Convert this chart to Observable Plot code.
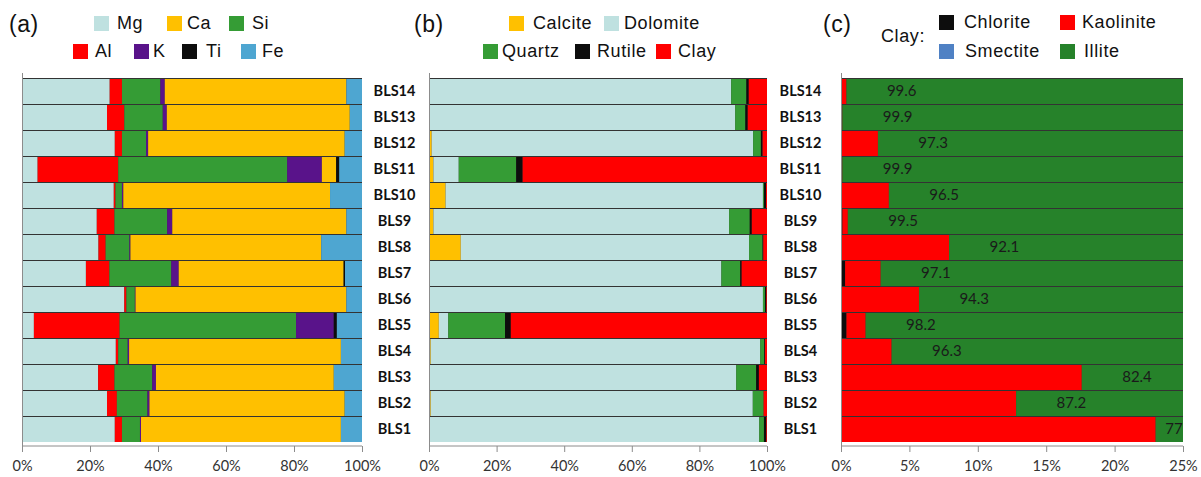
<!DOCTYPE html>
<html><head><meta charset="utf-8">
<script src="https://cdn.jsdelivr.net/npm/d3@7"></script>
<script src="https://cdn.jsdelivr.net/npm/@observablehq/plot@0.6"></script>
<style>
body{margin:0;background:#fff;}
#root{position:relative;width:1201px;height:477px;overflow:hidden;font-family:"Liberation Sans",Arial,sans-serif;color:#111;}
.item{position:absolute;height:20px;display:flex;align-items:center;font-size:18px;letter-spacing:0.6px;white-space:nowrap;}
.sw{width:15px;height:15px;flex:none;}
.ttl{position:absolute;font-size:23px;line-height:1;letter-spacing:0.5px;}
.panel{position:absolute;top:62px;}
.panel svg g[aria-label="x-axis tick"] path{stroke:#8c8c8c;}
</style></head><body><div id="root"></div>
<script>
// ---------- data ----------
const samples = ["BLS1","BLS2","BLS3","BLS4","BLS5","BLS6","BLS7","BLS8","BLS9","BLS10","BLS11","BLS12","BLS13","BLS14"];

// (a) elemental composition, %
const elementsA = ["Mg","Al","Si","K","Ca","Ti","Fe"];
const colorsA   = ["#bfe1e0","#ff0000","#359c35","#59138a","#ffc000","#0d0d0d","#4ea6d1"];
const mg = [27.3,25.0,22.4,27.6,3.5,30.1,18.8,22.5,22.0,27.0,4.6,27.3,25.0,25.8];
const al = [2.1,2.9,4.8,0.7,25.2,0.6,6.9,2.1,5.2,0.5,23.7,2.1,5.1,3.6];
const si = [5.3,9.0,11.1,2.8,51.9,2.5,18.2,7.0,15.5,1.9,49.7,7.1,11.3,11.3];
const k  = [0.3,0.6,1.1,0.4,11.1,0.2,2.2,0.3,1.5,0.4,10.2,0.6,1.2,1.3];
const ca = [58.8,57.4,52.3,62.3,0.0,62.0,48.5,56.1,51.2,60.8,4.2,57.8,53.8,53.4];
const ti = [0,0,0,0,0.9,0,0.4,0,0,0,0.9,0,0,0];
const fe = [6.2,5.1,8.3,6.2,7.4,4.6,5.0,12.0,4.6,9.4,6.7,5.1,3.6,4.6];

// (b) mineral composition, %
const mineralsB = ["Calcite","Dolomite","Quartz","Rutile","Clay"];
const colorsB   = ["#ffc000","#bfe1e0","#359c35","#0d0d0d","#ff0000"];
const calcite  = [0,0.5,0,0.5,2.9,0,0,9.4,1.3,4.9,1.3,0.8,0,0];
const dolomite = [97.7,95.3,90.9,97.5,2.8,98.8,86.5,85.3,87.5,93.9,7.5,95.1,90.6,89.4];
const quartz   = [1.4,3.2,5.9,1.2,16.8,0.6,5.6,4.0,6.1,0.3,17.0,2.3,3.0,4.5];
const rutile   = [0.7,0,0.8,0.2,1.7,0.4,0.4,0.2,0.6,0.6,1.9,0.5,0.7,0.7];
const clay     = [0.2,1.0,2.4,0.6,75.8,0.2,7.5,1.1,4.5,0.3,72.3,1.3,5.7,5.4];

// (c) clay composition, %
const claysC  = ["Chlorite","Kaolinite","Smectite","Illite"];
const colorsC = ["#0d0d0d","#ff0000","#4f81c4","#26822a"];
const chlorite  = [0,0,0,0,0.4,0,0.3,0,0.1,0,0,0,0,0];
const kaolinite = [23.0,12.8,17.6,3.7,1.4,5.7,2.6,7.9,0.4,3.5,0.1,2.7,0.1,0.4];
const smectite  = [0,0,0,0,0,0,0,0,0,0,0,0,0,0];
const illite    = [77,87.2,82.4,96.3,98.2,94.3,97.1,92.1,99.5,96.5,99.9,97.3,99.9,99.6];

// ---------- helpers ----------
const root = document.getElementById("root");
const topDown = samples.slice().reverse();
function longTable(names, series){
  return samples.flatMap((s,i)=>names.map((n,j)=>({sample:s, comp:n, value:series[j][i]})));
}
function bottomLine(index, scales, values, dims){
  const y = dims.height - dims.marginBottom;
  return d3.create("svg:line")
    .attr("x1", dims.marginLeft).attr("x2", dims.width - dims.marginRight)
    .attr("y1", y).attr("y2", y).attr("stroke", "#8c8c8c").node();
}
function panel(opts){
  const {data, names, colors, width, ml, mr, domain, ticks, labels, extra=[], clip=false, left} = opts;
  const marks = [
    Plot.barX(samples, {x1: domain[0], x2: domain[1], y: d=>d, fill: "#333"}),
    Plot.barX(data, {x:"value", y:"sample", fill:"comp", insetTop:1, insetBottom:0, insetLeft:0, insetRight:0, clip}),
    Plot.ruleX([domain[0]], {stroke:"#8c8c8c"}),
    bottomLine,
    ...extra
  ];
  if (labels) marks.push(Plot.text(samples, {y:d=>d, x:domain[1], dx:labels, text:d=>d, textAnchor:"middle", fontWeight:"bold", fontSize:14.5, fill:"#111"}));
  const chart = Plot.plot({
    width, height:415, marginLeft:ml, marginRight:mr, marginTop:11, marginBottom:31,
    style:{fontFamily:"Lato, 'Open Sans', sans-serif", fontSize:"14.5px", color:"#333", background:"transparent", overflow:"visible"},
    x:{domain, ticks, tickFormat:d=>d+"%", label:null, tickSize:6, tickPadding:8},
    y:{domain:topDown, padding:0, axis:null},
    color:{domain:names, range:colors},
    marks
  });
  const wrap = document.createElement("div");
  wrap.className = "panel"; wrap.style.left = left + "px";
  wrap.appendChild(chart); root.appendChild(wrap);
}

panel({data: longTable(elementsA,[mg,al,si,k,ca,ti,fe]), names:elementsA, colors:colorsA,
  width:420, ml:22, mr:58, domain:[0,100], ticks:[0,20,40,60,80,100], labels:32, left:0});
panel({data: longTable(mineralsB,[calcite,dolomite,quartz,rutile,clay]), names:mineralsB, colors:colorsB,
  width:410, ml:9, mr:63, domain:[0,100], ticks:[0,20,40,60,80,100], labels:33, left:420});
const illiteLabels = samples.map((s,i)=>({sample:s, illite:illite[i], start:100-illite[i]}));
panel({data: longTable(claysC,[chlorite,kaolinite,smectite,illite]), names:claysC, colors:colorsC,
  width:371, ml:11, mr:18, domain:[0,25], ticks:[0,5,10,15,20,25], clip:true, left:830,
  extra:[Plot.text(illiteLabels, {y:"sample", x:d=>Math.min(d.start+4, 24.3), text:d=>String(d.illite), fontSize:15, fill:"#1a1a1a", fontFamily:"Lato, sans-serif"})]});

// ---------- legends & titles ----------
function title(t, x){ const e=document.createElement("div"); e.className="ttl"; e.textContent=t; e.style.left=x+"px"; e.style.top="13px"; root.appendChild(e); }
function legend(names, colors, layout){
  names.forEach((n,i)=>{
    const [sx, tx, cy] = layout[n];
    const it = document.createElement("div"); it.className="item";
    it.style.left = sx+"px"; it.style.top = (cy-10)+"px"; it.style.gap = (tx-sx-15)+"px";
    const sw = document.createElement("div"); sw.className="sw"; sw.style.background = colors[i];
    const tx_ = document.createElement("span"); tx_.textContent = n;
    it.appendChild(sw); it.appendChild(tx_); root.appendChild(it);
  });
}
title("(a)", 9); title("(b)", 414); title("(c)", 823);
legend(elementsA, colorsA, {Mg:[94,117,23], Ca:[167,187,23], Si:[229,252,23], Al:[73,95,51], K:[134,153,51], Ti:[182,206,51], Fe:[241,262,51]});
legend(mineralsB, colorsB, {Calcite:[509,533,23], Dolomite:[604,624,23], Quartz:[483,502,51], Rutile:[575,597,51], Clay:[656,678,51]});
legend(claysC, colorsC, {Chlorite:[939,964,22], Kaolinite:[1060,1082,22], Smectite:[939,965,51], Illite:[1060,1084,51]});
const cl = document.createElement("div"); cl.className="item"; cl.textContent="Clay:"; cl.style.left="881px"; cl.style.top="26px"; root.appendChild(cl);
</script></body></html>
